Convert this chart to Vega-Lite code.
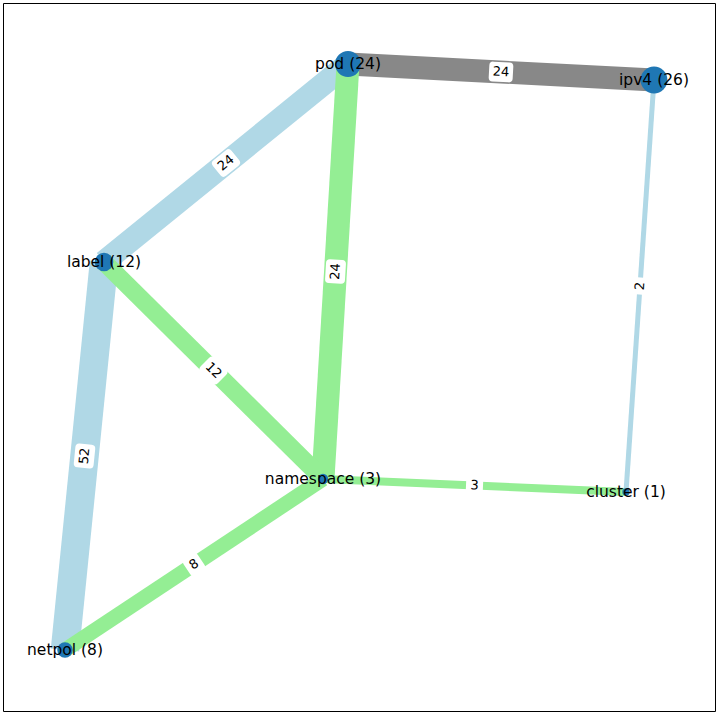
{
  "$schema": "https://vega.github.io/schema/vega-lite/v6.json",
  "width": 712,
  "height": 708,
  "padding": {"left": 3, "top": 3, "right": 3, "bottom": 2},
  "autosize": {"type": "pad"},
  "background": "white",
  "config": {
    "view": {"stroke": "#000000", "strokeWidth": 1},
    "axis": {"disable": true},
    "legend": {"disable": true}
  },
  "datasets": {
    "nodes": [
      {"name": "pod", "label": "pod (24)", "count": 24, "x": 345, "y": 647},
      {"name": "ipv4", "label": "ipv4 (26)", "count": 26, "x": 651, "y": 631},
      {"name": "label", "label": "label (12)", "count": 12, "x": 101, "y": 449},
      {"name": "namespace", "label": "namespace (3)", "count": 3, "x": 320, "y": 232},
      {"name": "cluster", "label": "cluster (1)", "count": 1, "x": 623, "y": 219},
      {"name": "netpol", "label": "netpol (8)", "count": 8, "x": 62, "y": 61}
    ],
    "edges": [
      {"id": "pod-ipv4", "source": "pod", "target": "ipv4", "value": 24, "kind": "A"},
      {"id": "pod-label", "source": "pod", "target": "label", "value": 24, "kind": "B"},
      {"id": "pod-namespace", "source": "pod", "target": "namespace", "value": 24, "kind": "C"},
      {"id": "label-netpol", "source": "label", "target": "netpol", "value": 52, "kind": "B"},
      {"id": "label-namespace", "source": "label", "target": "namespace", "value": 12, "kind": "C"},
      {"id": "namespace-netpol", "source": "namespace", "target": "netpol", "value": 8, "kind": "C"},
      {"id": "namespace-cluster", "source": "namespace", "target": "cluster", "value": 3, "kind": "C"},
      {"id": "ipv4-cluster", "source": "ipv4", "target": "cluster", "value": 2, "kind": "B"}
    ]
  },
  "layer": [
    {
      "data": {"name": "edges"},
      "transform": [
        {"lookup": "source", "from": {"data": {"name": "nodes"}, "key": "name", "fields": ["x", "y"]}, "as": ["sx", "sy"]},
        {"lookup": "target", "from": {"data": {"name": "nodes"}, "key": "name", "fields": ["x", "y"]}, "as": ["tx", "ty"]}
      ],
      "mark": {"type": "rule", "strokeCap": "butt"},
      "encoding": {
        "x": {"field": "sx", "type": "quantitative", "scale": {"domain": [0, 712], "nice": false, "zero": false}},
        "y": {"field": "sy", "type": "quantitative", "scale": {"domain": [0, 708], "nice": false, "zero": false}},
        "x2": {"field": "tx"},
        "y2": {"field": "ty"},
        "color": {"field": "kind", "type": "nominal", "scale": {"domain": ["A", "B", "C"], "range": ["#888888", "#b0d8e6", "#94ee94"]}},
        "strokeWidth": {"field": "value", "type": "quantitative", "scale": {"type": "log", "domain": [1, 64], "range": [0, 30]}}
      }
    },
    {
      "data": {"name": "nodes"},
      "mark": {"type": "point", "filled": true, "opacity": 1, "color": "#1f77b4", "strokeWidth": 0},
      "encoding": {
        "x": {"field": "x", "type": "quantitative"},
        "y": {"field": "y", "type": "quantitative"},
        "size": {"field": "count", "type": "quantitative", "scale": {"type": "linear", "domain": [1, 26], "range": [55, 720], "zero": false}}
      }
    },
    {
      "data": {"name": "nodes"},
      "mark": {"type": "text", "font": "DejaVu Sans", "fontSize": 15.5, "color": "#000000", "align": "center", "baseline": "middle"},
      "encoding": {
        "x": {"field": "x", "type": "quantitative"},
        "y": {"field": "y", "type": "quantitative"},
        "text": {"field": "label", "type": "nominal"}
      }
    },
    {
      "data": {"name": "edges"},
      "transform": [
        {"fold": ["source", "target"], "as": ["end", "node"]},
        {"lookup": "node", "from": {"data": {"name": "nodes"}, "key": "name", "fields": ["x", "y"]}},
        {"aggregate": [{"op": "mean", "field": "x", "as": "mx"}, {"op": "mean", "field": "y", "as": "my"}], "groupby": ["id", "value"]}
      ],
      "layer": [
        {
          "transform": [{"filter": "datum.value >= 10"}],
          "mark": {"type": "point", "filled": true, "opacity": 1, "color": "white", "strokeWidth": 0, "size": 576,
                   "shape": "M-0.67,-0.83 L0.67,-0.83 Q1,-0.83 1,-0.5 L1,0.5 Q1,0.83 0.67,0.83 L-0.67,0.83 Q-1,0.83 -1,0.5 L-1,-0.5 Q-1,-0.83 -0.67,-0.83 Z"},
          "encoding": {
            "x": {"field": "mx", "type": "quantitative"},
            "y": {"field": "my", "type": "quantitative"},
            "angle": {"field": "id", "type": "nominal", "scale": {"type": "ordinal", "domain": ["pod-ipv4", "pod-label", "pod-namespace", "label-netpol", "label-namespace", "namespace-netpol", "namespace-cluster", "ipv4-cluster"], "range": [3, 320.9, 273.4, 275.7, 44.7, 326.5, 2.5, 273.9]}}
          }
        },
        {
          "transform": [{"filter": "datum.value < 10"}],
          "mark": {"type": "point", "filled": true, "opacity": 1, "color": "white", "strokeWidth": 0, "size": 289,
                   "shape": "M-0.53,-1.18 L0.53,-1.18 Q1,-1.18 1,-0.71 L1,0.71 Q1,1.18 0.53,1.18 L-0.53,1.18 Q-1,1.18 -1,0.71 L-1,-0.71 Q-1,-1.18 -0.53,-1.18 Z"},
          "encoding": {
            "x": {"field": "mx", "type": "quantitative"},
            "y": {"field": "my", "type": "quantitative"},
            "angle": {"field": "id", "type": "nominal", "scale": {"type": "ordinal", "domain": ["pod-ipv4", "pod-label", "pod-namespace", "label-netpol", "label-namespace", "namespace-netpol", "namespace-cluster", "ipv4-cluster"], "range": [3, 320.9, 273.4, 275.7, 44.7, 326.5, 2.5, 273.9]}}
          }
        },
        {
          "mark": {"type": "text", "font": "DejaVu Sans", "fontSize": 13, "color": "#000000", "align": "center", "baseline": "middle"},
          "encoding": {
            "x": {"field": "mx", "type": "quantitative"},
            "y": {"field": "my", "type": "quantitative"},
            "text": {"field": "value", "type": "quantitative"},
            "angle": {"field": "id", "type": "nominal", "scale": {"type": "ordinal", "domain": ["pod-ipv4", "pod-label", "pod-namespace", "label-netpol", "label-namespace", "namespace-netpol", "namespace-cluster", "ipv4-cluster"], "range": [3, 320.9, 273.4, 275.7, 44.7, 326.5, 2.5, 273.9]}}
          }
        }
      ]
    }
  ]
}
